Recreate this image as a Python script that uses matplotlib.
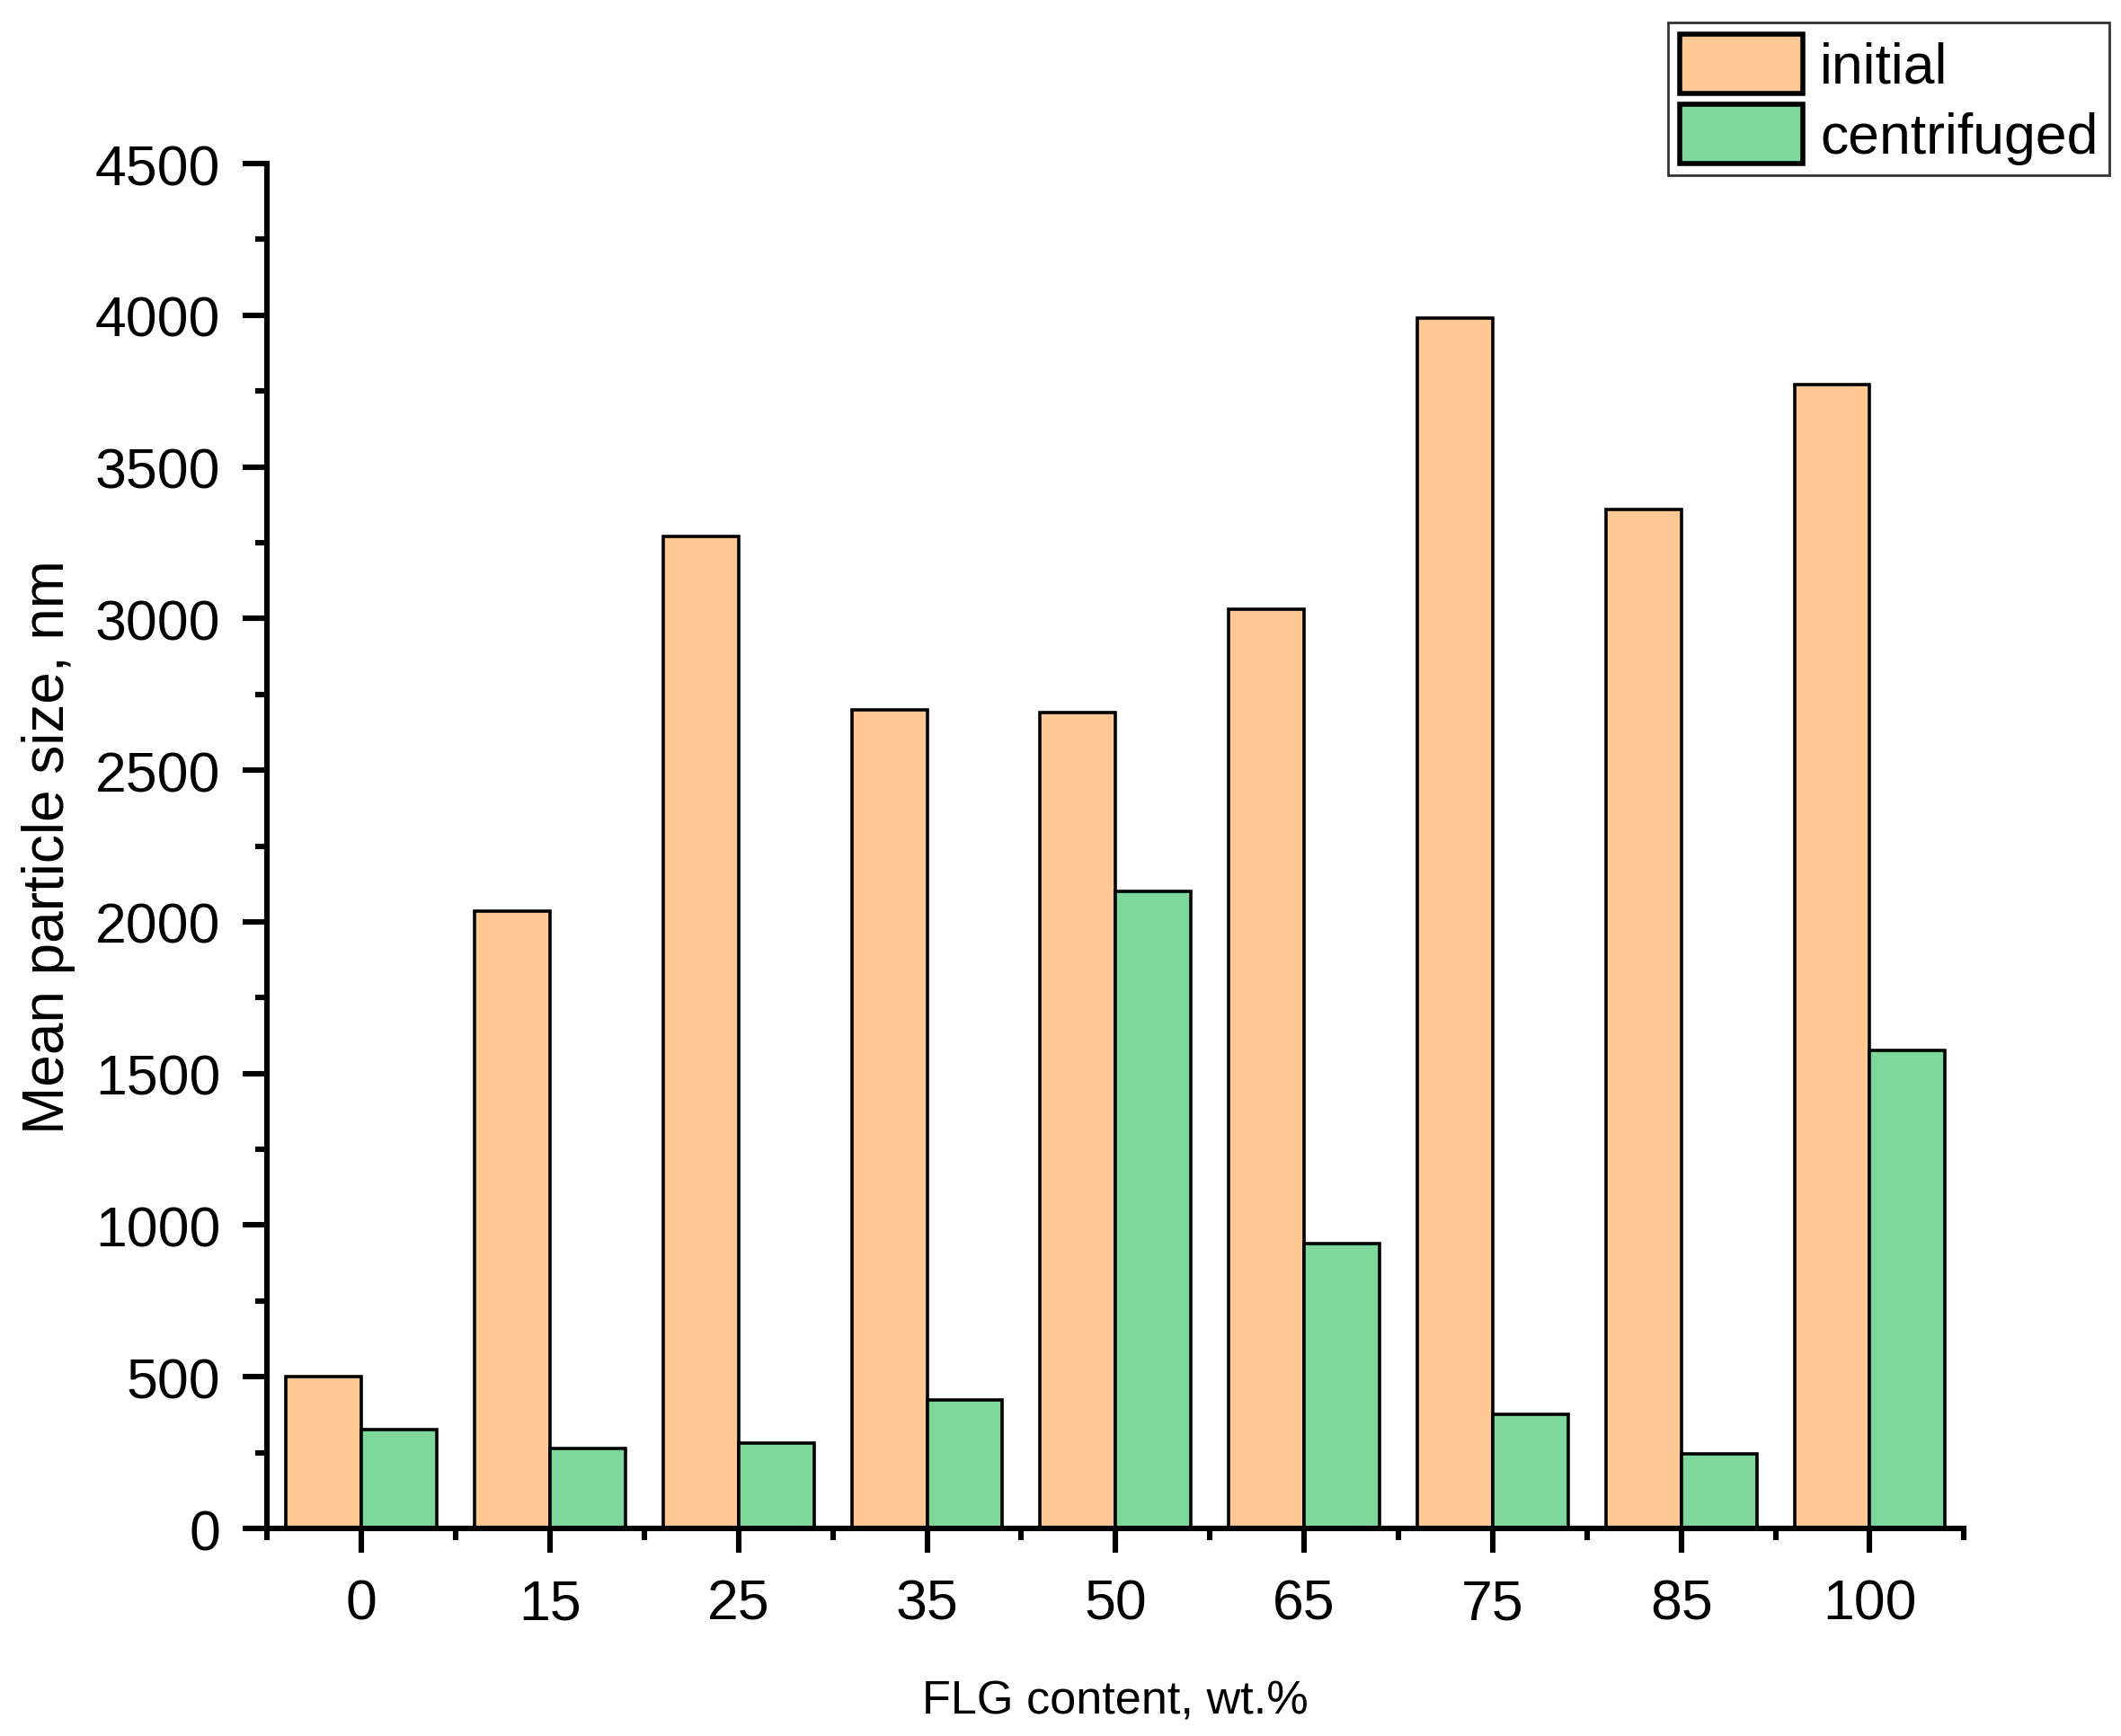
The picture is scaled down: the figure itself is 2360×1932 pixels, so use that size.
import matplotlib.pyplot as plt
from matplotlib.ticker import MultipleLocator
import numpy as np

plt.rcParams['font.family'] = ['Liberation Sans', 'DejaVu Sans']

flg = ['0', '15', '25', '35', '50', '65', '75', '85', '100']
initial = [500, 2035, 3270, 2700, 2690, 3030, 3990, 3360, 3770]
centrifuged = [325, 264, 281, 424, 2100, 938, 375, 246, 1577]

fig = plt.figure(figsize=(11.8, 9.665), dpi=200)
ax = fig.add_axes([0.126, 0.1195, 0.80, 0.7858])

x = np.arange(len(flg))
w = 0.4
ax.bar(x - w/2, initial, w, color='#FFC895', edgecolor='black', linewidth=1.3, label='initial')
ax.bar(x + w/2, centrifuged, w, color='#7FD89B', edgecolor='black', linewidth=1.3, label='centrifuged')

ax.set_xlim(-0.5, 8.5)
ax.set_ylim(0, 4500)
ax.set_xticks(x)
ax.set_xticklabels(flg)
ax.xaxis.set_minor_locator(MultipleLocator(1, offset=0.5))
ax.yaxis.set_major_locator(MultipleLocator(500))
ax.yaxis.set_minor_locator(MultipleLocator(250))

for s in ['top', 'right']:
    ax.spines[s].set_visible(False)
for s in ['left', 'bottom']:
    ax.spines[s].set_linewidth(2.2)

ax.tick_params(axis='both', which='major', direction='out', length=9.7, width=2.2, labelsize=22.5)
ax.tick_params(axis='both', which='minor', direction='out', length=4.7, width=2.2)
ax.tick_params(axis='x', which='major', pad=10)
ax.tick_params(axis='y', which='major', pad=9)

ax.set_ylabel('Mean particle size, nm', fontsize=23)
ax.yaxis.set_label_coords(-0.113, 0.5)
ax.set_xlabel('FLG content, wt.%', fontsize=18.8)
ax.xaxis.set_label_coords(0.5, -0.110)

leg = ax.legend(loc='upper right', bbox_to_anchor=(0.9945, 0.9865), bbox_transform=fig.transFigure,
                fontsize=22.5, frameon=True, fancybox=False, edgecolor='black',
                handlelength=2.2, handleheight=1.25, labelspacing=0.18, handletextpad=0.3,
                borderpad=0.2, borderaxespad=0)
leg.get_frame().set_linewidth(1.0)
for p in leg.get_patches():
    p.set_linewidth(2.0)

fig.savefig('out.png', dpi=200)
